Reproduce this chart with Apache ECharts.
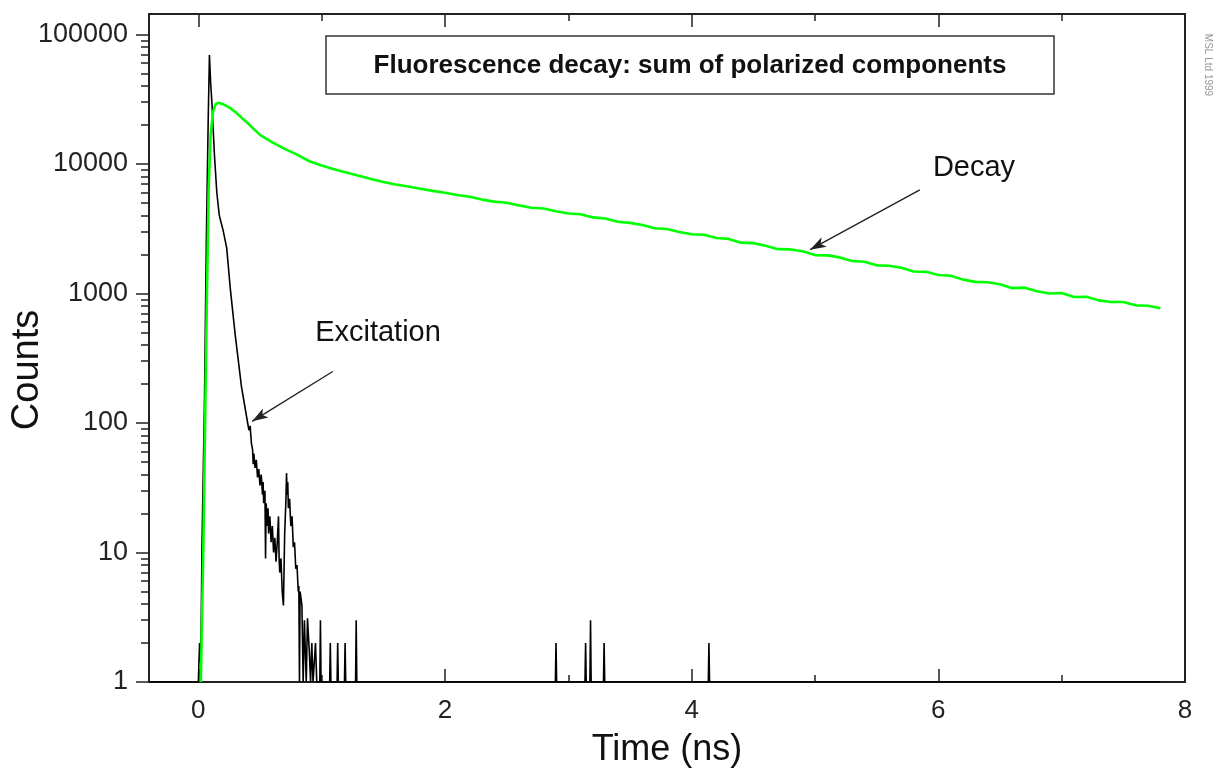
<!DOCTYPE html>
<html>
<head>
<meta charset="utf-8">
<title>Fluorescence decay</title>
<script src="https://cdn.jsdelivr.net/npm/echarts@6/dist/echarts.min.js"></script>
<style>
  html, body { margin: 0; padding: 0; background: #fff; }
  #chart { width: 1217px; height: 773px; }
</style>
</head>
<body>
<div id="chart"></div>
<script>
// excitation pulse (instrument response), counts per channel
const excTime = [-0.4, -0.02, 0.00, 0.01, 0.02, 0.03, 0.05, 0.065, 0.08, 0.09, 0.10, 0.11, 0.13, 0.15, 0.17, 0.20, 0.23, 0.26, 0.30, 0.35,
  0.40, 0.41, 0.42, 0.43, 0.44, 0.445, 0.45, 0.46, 0.47, 0.48, 0.49, 0.50, 0.51, 0.52, 0.525, 0.53, 0.54, 0.545, 0.55, 0.56,
  0.565, 0.57, 0.58, 0.59, 0.60, 0.61, 0.62, 0.63, 0.64, 0.65, 0.655, 0.66, 0.67, 0.68, 0.69, 0.70, 0.71, 0.715, 0.72, 0.725,
  0.73, 0.74, 0.75, 0.76, 0.77, 0.78, 0.79, 0.80, 0.81, 0.815, 0.82, 0.825, 0.84, 0.85, 0.86, 0.875, 0.885, 0.90, 0.91, 0.92,
  0.93, 0.95, 0.96, 0.985, 0.99, 0.995,
  1.065, 1.07, 1.075, 1.125, 1.13, 1.135, 1.185, 1.19, 1.195, 1.275, 1.28, 1.285,
  2.895, 2.90, 2.905, 3.135, 3.14, 3.145, 3.175, 3.18, 3.185, 3.285, 3.29, 3.295, 4.135, 4.14, 4.145, 7.8];
const excCounts = [1, 1, 1, 2, 1.4, 12, 150, 2600, 22000, 69500, 42000, 30000, 12000, 6000, 4000, 3100, 2250, 1070, 470, 190,
  100, 88, 95, 70, 62, 48, 58, 45, 52, 38, 44, 33, 40, 28, 35, 24, 30, 9, 24, 16,
  22, 14, 19, 12, 16, 10, 13, 8.5, 12, 19, 9, 7, 9, 5, 3.9, 14, 25, 41, 28, 35,
  22, 26, 16, 19, 11, 12, 7.5, 8, 5, 5.5, 1, 5, 3.9, 1, 3, 1, 3.1, 1.7, 1, 2,
  1, 2, 1, 1, 3, 1,
  1, 2, 1, 1, 2, 1, 1, 2, 1, 1, 3, 1,
  1, 2, 1, 1, 2, 1, 1, 3, 1, 1, 2, 1, 1, 2, 1, 1];

// fluorescence decay, sum of polarized components
const decayTime = [0.02, 0.04, 0.055, 0.07, 0.085, 0.10, 0.12, 0.14, 0.16, 0.20, 0.26, 0.30, 0.35, 0.40, 0.45, 0.50, 0.60, 0.70, 0.80, 0.90,
  1.0, 1.1, 1.2, 1.3, 1.4, 1.5, 1.6, 1.7, 1.8, 1.9, 2.0, 2.1, 2.2, 2.3, 2.4, 2.5, 2.6, 2.7, 2.8, 2.9,
  3.0, 3.1, 3.2, 3.3, 3.4, 3.5, 3.6, 3.7, 3.8, 3.9, 4.0, 4.1, 4.2, 4.3, 4.4, 4.5, 4.6, 4.7, 4.8, 4.9,
  5.0, 5.1, 5.2, 5.3, 5.4, 5.5, 5.6, 5.7, 5.8, 5.9, 6.0, 6.1, 6.2, 6.3, 6.4, 6.5, 6.6, 6.7, 6.8, 6.9,
  7.0, 7.1, 7.2, 7.3, 7.4, 7.5, 7.6, 7.7, 7.8];
const decayCounts = [1, 10, 100, 1000, 7000, 17000, 25500, 29000, 29700, 29000, 27000, 25200, 22800, 20700, 18600, 16800, 14700, 13100, 11800, 10500,
  9750, 9100, 8600, 8100, 7650, 7250, 6950, 6700, 6450, 6200, 6000, 5760, 5590, 5310, 5120, 5020, 4790, 4600, 4530, 4320,
  4150, 4090, 3870, 3790, 3580, 3510, 3380, 3190, 3150, 2990, 2870, 2840, 2680, 2640, 2470, 2450, 2340, 2200, 2190, 2120,
  1980, 1970, 1900, 1780, 1760, 1650, 1640, 1580, 1480, 1470, 1390, 1370, 1280, 1230, 1220, 1180, 1100, 1110, 1040, 1000,
  1010, 940, 945, 885, 860, 860, 810, 805, 770];

const xMajorTicks = [0, 2, 4, 6, 8];
const xMinorTicks = [1, 3, 5, 7];
const yMajorTicks = [1, 10, 100, 1000, 10000, 100000];
const yMinorTicks = [2, 3, 4, 5, 6, 7, 8, 9,
  20, 30, 40, 50, 60, 70, 80, 90,
  200, 300, 400, 500, 600, 700, 800, 900,
  2000, 3000, 4000, 5000, 6000, 7000, 8000, 9000,
  20000, 30000, 40000, 50000, 60000, 70000, 80000, 90000];

// arrow annotations: [time, counts] start -> end
const excArrow = [[1.09, 250], [0.436, 103]];
const decayArrow = [[5.85, 6320], [4.96, 2180]];

const FONT = '"Liberation Sans", Arial, Helvetica, sans-serif';
const AXIS_COLOR = '#222';

function pairs(xs, ys) {
    return xs.map((x, i) => [x, ys[i]]);
}

function tickAxis(position, ticks, len, withLabels) {
    return {
        type: 'value',
        position: position,
        min: -0.4,
        max: 8,
        axisLine: {show: false, onZero: false},
        splitLine: {show: false},
        axisTick: {
            show: true,
            inside: true,
            length: len,
            customValues: ticks,
            lineStyle: {color: AXIS_COLOR, width: 1.5}
        },
        axisLabel: withLabels ? {
            customValues: ticks,
            fontSize: 26,
            fontFamily: FONT,
            color: '#222',
            margin: 16
        } : {show: false}
    };
}

function logAxis(ticks, len, withLabels) {
    return {
        type: 'log',
        logBase: 10,
        min: 1,
        max: 144000,
        position: 'left',
        axisLine: {show: false, onZero: false},
        splitLine: {show: false},
        minorSplitLine: {show: false},
        axisTick: {show: true, inside: false, length: len, customValues: ticks, lineStyle: {color: AXIS_COLOR, width: 1.5}},
        axisLabel: withLabels ? {
            customValues: ticks,
            fontSize: 27,
            fontFamily: FONT,
            color: '#222',
            margin: 21,
            formatter: value => String(Math.round(value))
        } : {show: false}
    };
}

const bottomAxis = tickAxis('bottom', xMajorTicks, 13, true);
bottomAxis.name = 'Time (ns)';
bottomAxis.nameLocation = 'middle';
bottomAxis.nameGap = 50;
bottomAxis.nameTextStyle = {fontSize: 36, fontFamily: FONT, color: '#111'};

const option = {
    animation: false,
    backgroundColor: '#fff',
    grid: {
        left: 149,
        right: 32,
        top: 14,
        bottom: 90,
        show: true,
        borderColor: AXIS_COLOR,
        borderWidth: 2,
        backgroundColor: 'transparent'
    },
    xAxis: [
        bottomAxis,
        tickAxis('bottom', xMinorTicks, 7, false),
        tickAxis('top', xMajorTicks, 13, false),
        tickAxis('top', xMinorTicks, 7, false)
    ],
    yAxis: [
        logAxis(yMajorTicks, 13, true),
        logAxis(yMinorTicks, 8, false)
    ],
    graphic: [
        {
            type: 'rect',
            shape: {x: 326, y: 36, width: 728, height: 58},
            style: {fill: '#fff', stroke: '#333', lineWidth: 1.5},
            z: 10
        },
        {
            type: 'text',
            x: 690,
            y: 66,
            z: 11,
            style: {
                text: 'Fluorescence decay: sum of polarized components',
                fontSize: 26,
                fontWeight: 'bold',
                fontFamily: FONT,
                fill: '#111',
                align: 'center',
                verticalAlign: 'middle'
            }
        },
        {
            type: 'text',
            x: 378,
            y: 333,
            style: {text: 'Excitation', fontSize: 29, fontFamily: FONT, fill: '#111', align: 'center', verticalAlign: 'middle'}
        },
        {
            type: 'text',
            x: 974,
            y: 168,
            style: {text: 'Decay', fontSize: 29, fontFamily: FONT, fill: '#111', align: 'center', verticalAlign: 'middle'}
        },
        {
            type: 'text',
            x: 28,
            y: 370,
            rotation: Math.PI / 2,
            style: {text: 'Counts', fontSize: 38, fontFamily: FONT, fill: '#111', align: 'center', verticalAlign: 'middle'}
        },
        {
            type: 'text',
            x: 1208,
            y: 65,
            rotation: -Math.PI / 2,
            style: {text: 'MSL Ltd 1999', fontSize: 10, fontFamily: FONT, fill: '#999', align: 'center', verticalAlign: 'middle'}
        }
    ],
    series: [
        {
            name: 'Excitation',
            type: 'line',
            xAxisIndex: 0,
            yAxisIndex: 0,
            showSymbol: false,
            symbol: 'none',
            lineStyle: {color: '#000', width: 1.6},
            data: pairs(excTime, excCounts),
            markLine: {
                silent: true,
                symbol: ['none', 'arrow'],
                symbolSize: [8, 16],
                label: {show: false},
                lineStyle: {color: '#222', width: 1.4, type: 'solid'},
                data: [[{coord: excArrow[0]}, {coord: excArrow[1]}]]
            }
        },
        {
            name: 'Decay',
            type: 'line',
            xAxisIndex: 0,
            yAxisIndex: 0,
            showSymbol: false,
            symbol: 'none',
            lineStyle: {color: '#00ff00', width: 2.6},
            data: pairs(decayTime, decayCounts),
            markLine: {
                silent: true,
                symbol: ['none', 'arrow'],
                symbolSize: [8, 16],
                label: {show: false},
                lineStyle: {color: '#222', width: 1.4, type: 'solid'},
                data: [[{coord: decayArrow[0]}, {coord: decayArrow[1]}]]
            }
        }
    ]
};

const chart = echarts.init(document.getElementById('chart'), null, {renderer: 'canvas'});
chart.setOption(option);
</script>
</body>
</html>
